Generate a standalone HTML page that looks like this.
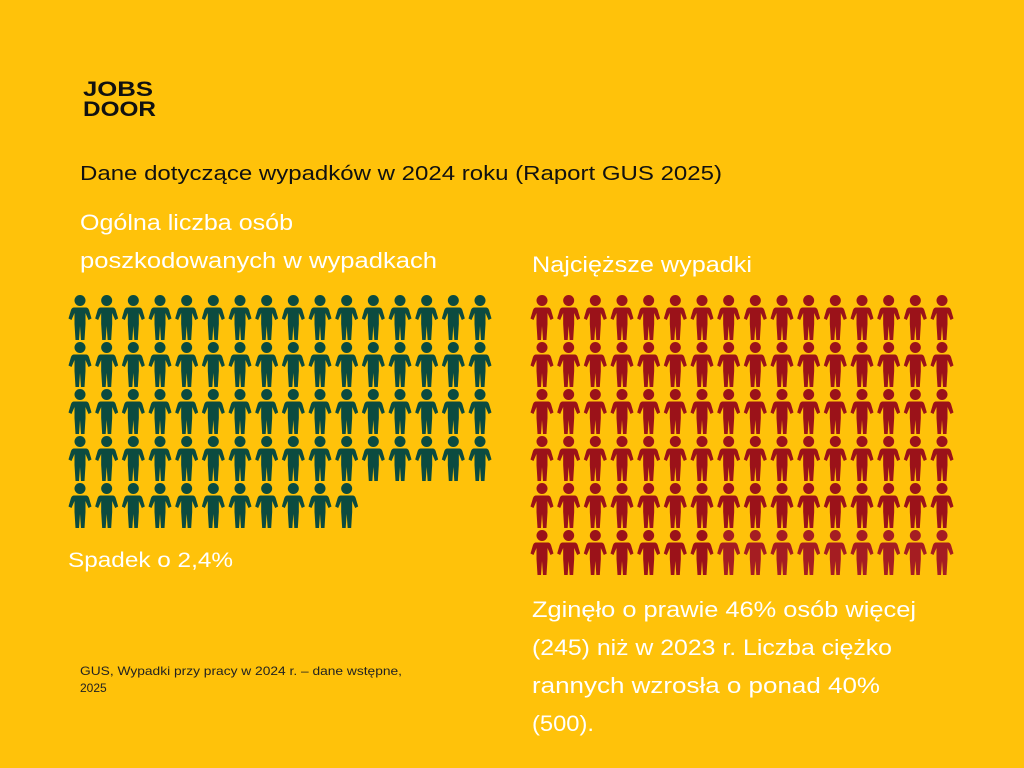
<!DOCTYPE html>
<html><head><meta charset="utf-8"><style>
html,body{margin:0;padding:0;background:#FFC20A;}
svg{display:block}
text{font-family:"Liberation Sans","DejaVu Sans",sans-serif}
</style></head><body>
<svg width="1024" height="768" viewBox="0 0 1024 768" xmlns="http://www.w3.org/2000/svg" xmlns:xlink="http://www.w3.org/1999/xlink">
<defs>
<g id="p">
<circle cx="0" cy="5.5" r="5.5"/>
<path d="M-6,12.5 H6 Q8,12.5 9,15 L11.5,23.5 L8.5,25 L5.5,18 V29 L4.5,45 H1 L0,31 L-1,45 H-4.5 L-5.5,29 V18 L-8.5,25 L-11.5,23.5 L-9,15 Q-8,12.5 -6,12.5 Z"/>
</g>
<g id="r7">
<use href="#p" xlink:href="#p" x="0"/>
<use href="#p" xlink:href="#p" x="26.67"/>
<use href="#p" xlink:href="#p" x="53.33"/>
<use href="#p" xlink:href="#p" x="80"/>
<use href="#p" xlink:href="#p" x="106.67"/>
<use href="#p" xlink:href="#p" x="133.33"/>
<use href="#p" xlink:href="#p" x="160"/>
</g>
<g id="r9">
<use href="#p" xlink:href="#p" x="186.67"/>
<use href="#p" xlink:href="#p" x="213.33"/>
<use href="#p" xlink:href="#p" x="240"/>
<use href="#p" xlink:href="#p" x="266.67"/>
<use href="#p" xlink:href="#p" x="293.33"/>
<use href="#p" xlink:href="#p" x="320"/>
<use href="#p" xlink:href="#p" x="346.67"/>
<use href="#p" xlink:href="#p" x="373.33"/>
<use href="#p" xlink:href="#p" x="400"/>
</g>
<g id="r16"><use href="#r7" xlink:href="#r7"/><use href="#r9" xlink:href="#r9"/></g>
<g id="r11">
<use href="#r7" xlink:href="#r7"/>
<use href="#p" xlink:href="#p" x="186.67"/>
<use href="#p" xlink:href="#p" x="213.33"/>
<use href="#p" xlink:href="#p" x="240"/>
<use href="#p" xlink:href="#p" x="266.67"/>
</g>
</defs>
<rect width="1024" height="768" fill="#FFC20A"/>
<text x="83" y="96" font-size="21" font-weight="bold" fill="#111" textLength="70" lengthAdjust="spacingAndGlyphs">JOBS</text>
<text x="83" y="116" font-size="21" font-weight="bold" fill="#111" textLength="73" lengthAdjust="spacingAndGlyphs">DOOR</text>
<text x="80" y="180" font-size="20" fill="#111" textLength="642" lengthAdjust="spacingAndGlyphs">Dane dotyczące wypadków w 2024 roku (Raport GUS 2025)</text>
<g fill="#fff">
<text x="80" y="230" font-size="22" textLength="213" lengthAdjust="spacingAndGlyphs">Ogólna liczba osób</text>
<text x="80" y="268" font-size="22" textLength="357" lengthAdjust="spacingAndGlyphs">poszkodowanych w wypadkach</text>
<text x="532" y="272" font-size="22" textLength="220" lengthAdjust="spacingAndGlyphs">Najcięższe wypadki</text>
<text x="68" y="567" font-size="21" textLength="165" lengthAdjust="spacingAndGlyphs">Spadek o 2,4%</text>
<text x="532" y="617" font-size="22" textLength="384" lengthAdjust="spacingAndGlyphs">Zginęło o prawie 46% osób więcej</text>
<text x="532" y="655" font-size="22" textLength="360" lengthAdjust="spacingAndGlyphs">(245) niż w 2023 r. Liczba ciężko</text>
<text x="532" y="693" font-size="22" textLength="348" lengthAdjust="spacingAndGlyphs">rannych wzrosła o ponad 40%</text>
<text x="532" y="731" font-size="22" textLength="62" lengthAdjust="spacingAndGlyphs">(500).</text>
</g>
<text x="80" y="675" font-size="12" fill="#222" textLength="322" lengthAdjust="spacingAndGlyphs">GUS, Wypadki przy pracy w 2024 r. – dane wstępne,</text>
<text x="80" y="692" font-size="12" fill="#222">2025</text>
<g fill="#0B4B40">
<use href="#r16" xlink:href="#r16" x="80" y="295"/>
<use href="#r16" xlink:href="#r16" x="80" y="342"/>
<use href="#r16" xlink:href="#r16" x="80" y="389"/>
<use href="#r16" xlink:href="#r16" x="80" y="436"/>
<use href="#r11" xlink:href="#r11" x="80" y="483"/>
</g>
<g fill="#9B1219">
<use href="#r16" xlink:href="#r16" x="542" y="295"/>
<use href="#r16" xlink:href="#r16" x="542" y="342"/>
<use href="#r16" xlink:href="#r16" x="542" y="389"/>
<use href="#r16" xlink:href="#r16" x="542" y="436"/>
<use href="#r16" xlink:href="#r16" x="542" y="483"/>
<use href="#r7" xlink:href="#r7" x="542" y="530"/>
</g>
<g fill="#A51D22">
<use href="#r9" xlink:href="#r9" x="542" y="530"/>
</g>
</svg>
</body></html>
